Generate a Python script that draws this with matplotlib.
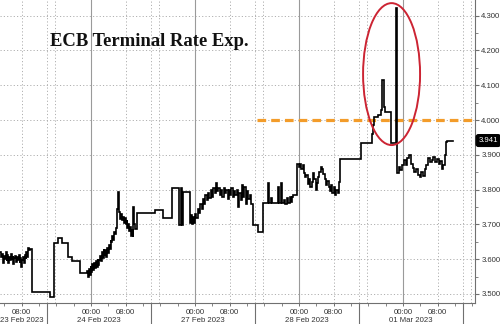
import matplotlib
matplotlib.use("Agg")
import matplotlib.pyplot as plt
from matplotlib.patches import Ellipse
from matplotlib.ticker import FixedLocator, FuncFormatter

# ---------------- data ----------------
# time axis: hours on a trading-day axis (23 Feb 2023 00:00 = 0, weekend removed;
# 24 Feb starts at 24, 27 Feb at 48, 28 Feb at 72, 01 Mar at 96)
day_labels = ["23 Feb 2023", "24 Feb 2023", "27 Feb 2023", "28 Feb 2023", "01 Mar 2023"]

hours = [
    3.0, 3.3, 3.5, 3.7, 3.9, 4.1, 4.3, 4.5, 4.7, 4.9, 5.1, 5.3, 5.5, 5.7, 5.9, 6.1, 6.3, 6.5,
    6.7, 6.9, 7.1, 7.3, 7.5, 7.7, 7.9, 8.1, 8.3, 8.5, 8.7, 8.9, 9.1, 9.3, 9.5, 9.7, 9.9,
    10.4, 14.5, 15.5, 16.4, 17.3, 18.8, 19.5, 21.4,
    23.1, 23.3, 23.5, 23.7, 23.9, 24.1, 24.3, 24.5, 24.7, 24.9, 25.1, 25.3, 25.5, 25.7, 25.9,
    26.1, 26.3, 26.5, 26.7, 26.9, 27.1, 27.3, 27.5, 27.7, 27.9, 28.1, 28.3, 28.5, 28.7, 28.9,
    29.1, 29.3, 29.5, 29.7, 29.9, 30.1, 30.2, 30.4,
    30.6, 30.8, 31.0, 31.2, 31.4, 31.6, 31.8, 32.0, 32.2, 32.4, 32.6, 32.8, 33.0, 33.2, 33.4,
    33.6, 33.8, 34.0, 34.2, 34.6,
    38.8, 40.6, 42.7, 44.4, 44.8, 45.0, 45.3, 46.8, 47.0, 47.2, 47.5, 47.8,
    48.0, 48.3, 48.6, 48.9, 49.2, 49.5, 49.8, 50.1, 50.4, 50.7, 51.0, 51.3, 51.6, 51.9, 52.2,
    52.5, 52.8, 53.1, 53.4, 53.7, 54.0, 54.3, 54.6, 54.9, 55.2, 55.5, 55.8, 56.1, 56.4, 56.7,
    57.0, 57.3, 57.6, 57.9, 58.2, 58.5, 58.8, 59.1, 59.4, 59.7, 60.0, 60.3, 60.6, 60.9,
    61.3, 62.6, 63.6, 64.8, 65.0, 65.6, 65.8, 67.1, 67.3, 67.9, 68.1, 68.5, 68.7,
    69.2, 69.5, 69.8, 70.1, 70.4, 70.7,
    71.6, 71.9, 72.2, 72.5, 72.8, 73.1, 73.4, 73.7, 74.0, 74.3, 74.6, 74.9, 75.2, 75.5, 75.8,
    76.1, 76.4, 76.7, 77.0, 77.3, 77.6, 77.9, 78.2, 78.5, 78.8, 79.1, 79.4, 79.7, 80.0, 80.3,
    80.6, 80.9, 81.2,
    81.5, 86.3, 88.8, 89.1, 89.4, 90.3, 90.8, 91.2, 91.5, 91.8, 93.2, 94.4, 94.6,
    95.0, 95.4, 95.8, 96.2, 96.6, 97.0, 97.4, 97.8, 98.2, 98.6, 99.0, 99.4, 99.8, 100.2,
    100.6, 101.0, 101.4, 101.8, 102.2, 102.6, 103.0, 103.4, 103.8, 104.2, 104.6, 105.0,
    105.3, 105.6, 105.9, 106.2, 107.5,
]

rate = [
    3.622, 3.605, 3.615, 3.590, 3.610, 3.600, 3.620, 3.595, 3.612, 3.588, 3.605, 3.598, 3.615,
    3.600, 3.608, 3.585, 3.602, 3.610, 3.592, 3.605, 3.598, 3.612, 3.590, 3.604, 3.578, 3.598,
    3.606, 3.590, 3.612, 3.600, 3.620, 3.605, 3.632, 3.625, 3.630,
    3.507, 3.492, 3.646, 3.660, 3.646, 3.607, 3.596, 3.561,
    3.565, 3.548, 3.572, 3.555, 3.580, 3.562, 3.585, 3.568, 3.590, 3.575, 3.595, 3.578, 3.600,
    3.582, 3.598, 3.610, 3.595, 3.620, 3.603, 3.628, 3.612, 3.625, 3.605, 3.632, 3.618, 3.640,
    3.628, 3.655, 3.648, 3.668, 3.655, 3.678, 3.672, 3.690, 3.700, 3.745, 3.794, 3.735,
    3.728, 3.715, 3.730, 3.712, 3.722, 3.705, 3.718, 3.700, 3.712, 3.690, 3.700, 3.680, 3.692,
    3.668, 3.685, 3.664, 3.750, 3.700, 3.688, 3.733,
    3.742, 3.719, 3.805, 3.698, 3.805, 3.698, 3.792, 3.705, 3.728, 3.700, 3.722, 3.705,
    3.730, 3.718, 3.745, 3.732, 3.760, 3.745, 3.772, 3.758, 3.785, 3.770, 3.790, 3.775, 3.798,
    3.780, 3.805, 3.790, 3.818, 3.795, 3.805, 3.785, 3.800, 3.780, 3.806, 3.790, 3.798, 3.772,
    3.800, 3.785, 3.805, 3.778, 3.795, 3.785, 3.800, 3.750, 3.790, 3.770, 3.812, 3.780, 3.808,
    3.760, 3.795, 3.772, 3.785, 3.760,
    3.698, 3.679, 3.762, 3.818, 3.762, 3.775, 3.762, 3.807, 3.762, 3.818, 3.762, 3.770, 3.758,
    3.775, 3.762, 3.780, 3.765, 3.778, 3.784,
    3.875, 3.865, 3.875, 3.858, 3.870, 3.848, 3.835, 3.842, 3.815, 3.830, 3.807, 3.822, 3.847,
    3.830, 3.800, 3.818, 3.835, 3.850, 3.866, 3.858, 3.845, 3.830, 3.813, 3.825, 3.807, 3.795,
    3.812, 3.790, 3.807, 3.784, 3.800, 3.790, 3.823,
    3.887, 3.934, 3.960, 3.985, 4.009, 4.015, 4.030, 4.115, 4.037, 4.023, 3.933, 4.322, 3.847,
    3.865, 3.856, 3.872, 3.885, 3.870, 3.890, 3.900, 3.875, 3.862, 3.850, 3.860, 3.842, 3.836,
    3.850, 3.838, 3.860, 3.870, 3.890, 3.878, 3.885, 3.895, 3.880, 3.888, 3.875, 3.882, 3.860,
    3.872, 3.900, 3.938, 3.941, 3.941,
]

last_value = 3.941
ref_level = 4.0          # orange dashed level
ref_start = 62.3         # where the dashed level starts (27 Feb ~14:20)
y_ticks = [3.5, 3.6, 3.7, 3.8, 3.9, 4.0, 4.1, 4.2, 4.3]
session_break = 13.85    # daily session break hour (separator in the date axis)
highlight_center = (93.35, 4.132)
highlight_size = (13.15, 0.408)

title = "ECB Terminal Rate Exp."

# ---------------- figure ----------------
W, H = 500, 324
fig = plt.figure(figsize=(W / 100, H / 100), dpi=100)
ax = fig.add_axes([0, 21 / H, 475 / W, 303 / H])
ax.set_xlim(3.0, 112.6)
ax.set_ylim(3.474, 4.345)

grid_col = "#b0b0b0"
spine_col = "#707070"
lab_col = "#333333"
tick_font = "Liberation Sans"

# horizontal grid
for y in y_ticks:
    ax.axhline(y, color=grid_col, lw=0.7, ls=(0, (1.2, 2.2)), zorder=0)

# vertical grid
n_days = len(day_labels)
for i in range(n_days):
    d0 = 24 * i
    ax.axvline(d0, color="#9a9a9a", lw=0.8, zorder=0)
    ax.axvline(d0 + 8, color=grid_col, lw=0.7, ls=(0, (1.2, 2.2)), zorder=0)
    ax.axvline(d0 + session_break, color=grid_col, lw=0.7, ls=(0, (1.2, 2.2)), zorder=0)
    ax.axvline(d0 + session_break + 1.8, color=grid_col, lw=0.7, ls=(0, (1.2, 2.2)), zorder=0)

# series
ax.plot(hours, rate, drawstyle="steps-post", color="black", lw=1.2, zorder=4,
        solid_joinstyle="miter")

# orange reference level
ax.plot([ref_start, ax.get_xlim()[1]], [ref_level, ref_level], color="#f39c2a", lw=2.3,
        dashes=(2.7, 1.6), zorder=3, clip_on=False)

# red highlight ellipse
ax.add_patch(Ellipse(highlight_center, highlight_size[0], highlight_size[1], fill=False,
                     edgecolor="#cc2433", lw=1.4, zorder=5))

# spines
for s in ["left", "top"]:
    ax.spines[s].set_visible(False)
for s in ["right", "bottom"]:
    ax.spines[s].set_color(spine_col)
    ax.spines[s].set_linewidth(0.8)

# y axis on right
ax.yaxis.tick_right()
ax.yaxis.set_major_locator(FixedLocator(y_ticks))
ax.yaxis.set_minor_locator(FixedLocator([v + 0.05 for v in y_ticks]))
ax.yaxis.set_major_formatter(FuncFormatter(lambda v, p: f"{v:.3f}"))
ax.tick_params(axis="y", which="major", direction="out", length=3, width=0.8,
               color=spine_col, labelsize=5.6, labelcolor=lab_col, pad=1.5)
ax.tick_params(axis="y", which="minor", direction="out", length=2, width=0.6, color=spine_col)

# x axis
major_x = []
for i in range(n_days):
    major_x += [24 * i, 24 * i + 8]
major_x = [h for h in major_x if 3.0 <= h <= 112.6]
ax.xaxis.set_major_locator(FixedLocator(major_x))
ax.xaxis.set_major_formatter(FuncFormatter(lambda v, p: f"{int(round(v)) % 24:02d}:00"))
minor_x = [h for h in range(0, 120, 4) if h % 24 not in (0, 8) and 3.0 <= h <= 112.6]
ax.xaxis.set_minor_locator(FixedLocator(minor_x))
ax.tick_params(axis="x", which="major", direction="out", length=2.5, width=0.7,
               color=spine_col, labelsize=5.6, labelcolor=lab_col, pad=1.5)
ax.tick_params(axis="x", which="minor", direction="out", length=1.8, width=0.6, color=spine_col)

for lab in ax.get_xticklabels() + ax.get_yticklabels():
    lab.set_fontfamily(tick_font)

# day separators below axis and day labels
xtr = ax.get_xaxis_transform()
seps = [24 * i + session_break for i in range(n_days)]
for s in seps:
    ax.plot([s, s], [0, -21 / 303], transform=xtr, color=spine_col, lw=0.8, clip_on=False)
for i, lab in enumerate(day_labels):
    if i == 0:
        ax.text(3.0, -17 / 303, lab, transform=xtr, ha="left", va="center", fontsize=5.6,
                color=lab_col, fontfamily=tick_font)
    else:
        c = (seps[i - 1] + seps[i]) / 2
        ax.text(c, -17 / 303, lab, transform=xtr, ha="center", va="center", fontsize=5.6,
                color=lab_col, fontfamily=tick_font)

# last value tag
ax.annotate(f"{last_value:.3f}", xy=(1, last_value), xycoords=ax.get_yaxis_transform(),
            xytext=(2.5, 0), textcoords="offset points", ha="left", va="center",
            fontsize=5.6, color="white", fontfamily=tick_font, annotation_clip=False,
            bbox=dict(boxstyle="round,pad=0.3,rounding_size=0.3", fc="black", ec="black"))

# title
fig.text(50 / W, 1 - 41 / H, title, ha="left", va="center", fontsize=13.4,
         fontfamily="Liberation Serif", fontweight="bold", color="#111111")

fig.savefig("out.png", dpi=100)
